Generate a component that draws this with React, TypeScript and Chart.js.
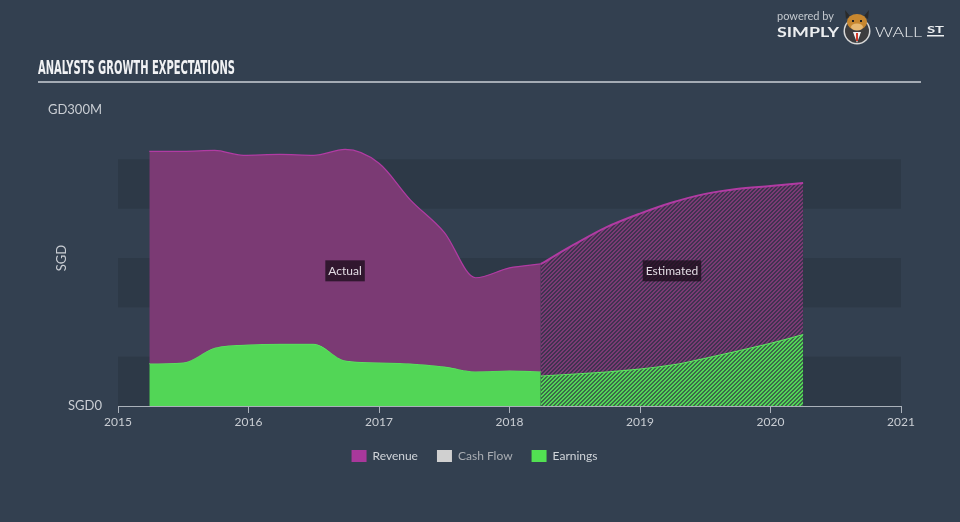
import React, { useEffect, useRef } from 'react';
import { Chart, registerables } from 'chart.js';

Chart.register(...registerables);

// ---- data ----
const actualYears = [2015.24, 2015.5, 2015.74, 2015.96, 2016.24, 2016.5, 2016.74, 2017.0, 2017.24, 2017.5, 2017.74, 2018.0, 2018.24];
const revenueActual = [258, 258, 259, 254, 255, 254, 260, 246, 209, 176, 130, 140, 144];
const earningsActual = [43, 44, 59, 62, 63, 63, 46, 44, 43, 40, 35, 36, 35];

const estimatedYears = [2018.24, 2018.5, 2018.74, 2019.0, 2019.24, 2019.5, 2019.74, 2020.0, 2020.25];
const revenueEstimated = [144, 164, 181, 195, 206, 215, 220, 223, 226];
const earningsEstimated = [31, 33, 35, 38, 42, 49, 56, 64, 73];

const yTickLabels = ['SGD0', 'GD300M'];
const legendLabels = ['Revenue', 'Cash Flow', 'Earnings'];
const bandRanges = [[0, 50], [100, 150], [200, 250]];
const regionLabels = ['Actual', 'Estimated'];
const regionLabelValue = 137;
const TITLE = 'ANALYSTS GROWTH EXPECTATIONS';

// ---- styles ----
const FONT = 'Lato, "Open Sans", sans-serif';
const BG = '#334050';
const BAND = '#2d3947';
const TEXT = '#c9cdd3';
const REV_FILL = '#7b3a74';
const REV_LINE = '#b13ba3';
const EARN_FILL = '#52d656';
const EARN_LINE = '#5ee262';
const legendColors = ['#a9389b', '#d0d0d0', '#52e052'];
const legendFontColors = ['#d0d4d9', '#a9adb3', '#d0d4d9'];

function makePattern(stripe: string, gap: string): CanvasPattern | string {
  const c = document.createElement('canvas');
  c.width = 4;
  c.height = 4;
  const g = c.getContext('2d');
  if (!g) return stripe;
  for (let i = 0; i < 4; i++) {
    for (let j = 0; j < 4; j++) {
      g.fillStyle = (i + j) % 4 < 2 ? stripe : gap;
      g.fillRect(i, j, 1, 1);
    }
  }
  const p = g.createPattern(c, 'repeat');
  return p || stripe;
}

function fillTextFit(ctx: CanvasRenderingContext2D, text: string, x: number, y: number, width: number) {
  const w = ctx.measureText(text).width;
  ctx.save();
  ctx.translate(x, y);
  ctx.scale(width / w, 1);
  ctx.fillText(text, 0, 0);
  ctx.restore();
}

const decorPlugin = {
  id: 'decor',
  beforeDraw(chart: any) {
    const { ctx, chartArea, scales } = chart;
    ctx.save();
    ctx.fillStyle = BG;
    ctx.fillRect(0, 0, chart.width, chart.height);
    ctx.fillStyle = BAND;
    for (const [a, b] of bandRanges) {
      const y1 = scales.y.getPixelForValue(b);
      const y2 = scales.y.getPixelForValue(a);
      ctx.fillRect(chartArea.left, y1, chartArea.right - chartArea.left, y2 - y1);
    }
    // title
    ctx.fillStyle = '#f1f2f4';
    ctx.textBaseline = 'alphabetic';
    ctx.textAlign = 'left';
    ctx.font = 'bold 20px "DejaVu Sans Condensed", "DejaVu Sans", sans-serif';
    fillTextFit(ctx, TITLE, 38, 74, 197);
    ctx.fillStyle = '#a4abb4';
    ctx.fillRect(38, 81, 883, 2);

    // logo
    ctx.fillStyle = '#c4c9cf';
    ctx.font = '11px ' + FONT;
    fillTextFit(ctx, 'powered by', 777, 20, 57);
    ctx.fillStyle = '#eceef0';
    ctx.font = 'bold 14px ' + FONT;
    fillTextFit(ctx, 'SIMPLY', 777, 37, 62);
    ctx.font = '300 14px ' + FONT;
    fillTextFit(ctx, 'WALL', 875, 37, 47);
    ctx.font = 'bold 10px ' + FONT;
    fillTextFit(ctx, 'ST', 927, 33, 17);
    ctx.fillRect(927, 35, 17, 1.5);
    // bull icon
    ctx.fillStyle = '#d9d9d9';
    ctx.beginPath();
    ctx.arc(857, 31, 13.5, 0, Math.PI * 2);
    ctx.fill();
    ctx.fillStyle = '#3d3d3f';
    ctx.beginPath();
    ctx.arc(857, 31, 12, 0, Math.PI * 2);
    ctx.fill();
    ctx.fillStyle = '#f2f2f2';
    ctx.beginPath();
    ctx.moveTo(853, 32);
    ctx.lineTo(861, 32);
    ctx.lineTo(857, 43);
    ctx.closePath();
    ctx.fill();
    ctx.fillStyle = '#d23b2a';
    ctx.fillRect(856, 33, 2, 8);
    ctx.fillStyle = '#2a2a2a';
    ctx.beginPath();
    ctx.moveTo(846, 19);
    ctx.lineTo(845, 10);
    ctx.lineTo(850, 16);
    ctx.closePath();
    ctx.fill();
    ctx.beginPath();
    ctx.moveTo(868, 19);
    ctx.lineTo(869, 10);
    ctx.lineTo(864, 16);
    ctx.closePath();
    ctx.fill();
    ctx.fillStyle = '#c7872f';
    ctx.beginPath();
    ctx.ellipse(857, 22, 10, 8, 0, 0, Math.PI * 2);
    ctx.fill();
    ctx.fillStyle = '#e6b872';
    ctx.beginPath();
    ctx.ellipse(857, 27, 6, 3.5, 0, 0, Math.PI * 2);
    ctx.fill();
    ctx.fillStyle = '#222';
    ctx.fillRect(852, 20, 2, 2);
    ctx.fillRect(860, 20, 2, 2);
    ctx.restore();
  },
  afterDatasetsDraw(chart: any) {
    const { ctx, scales } = chart;
    const spans = [
      [actualYears[0], actualYears[actualYears.length - 1]],
      [estimatedYears[0], estimatedYears[estimatedYears.length - 1]],
    ];
    ctx.save();
    ctx.font = '12px ' + FONT;
    ctx.textAlign = 'center';
    ctx.textBaseline = 'middle';
    regionLabels.forEach((label, i) => {
      const cx = scales.x.getPixelForValue((spans[i][0] + spans[i][1]) / 2);
      const cy = scales.y.getPixelForValue(regionLabelValue);
      const w = ctx.measureText(label).width + 6;
      ctx.fillStyle = 'rgba(28,14,28,0.78)';
      ctx.fillRect(cx - w / 2, cy - 10.5, w, 21);
      ctx.fillStyle = '#e2dbe3';
      ctx.fillText(label, cx, cy + 0.5);
    });
    ctx.restore();
  },
};

export default function App() {
  const ref = useRef<HTMLCanvasElement | null>(null);

  useEffect(() => {
    if (!ref.current) return;
    const revPattern = makePattern('#7b3a74', '#3f3350');
    const earnPattern = makePattern('#52d656', '#3c6a4a');
    const pts = (xs: number[], ys: number[]) => xs.map((x, i) => ({ x, y: ys[i] }));

    const chart = new Chart(ref.current, {
      type: 'line',
      data: {
        datasets: [
          {
            label: 'Revenue',
            data: pts(actualYears, revenueActual),
            fill: 1,
            backgroundColor: REV_FILL,
            borderColor: REV_LINE,
            borderWidth: 1.2,
            pointRadius: 0,
            cubicInterpolationMode: 'monotone',
          },
          {
            label: 'Earnings',
            data: pts(actualYears, earningsActual),
            fill: 'origin',
            backgroundColor: EARN_FILL,
            borderColor: EARN_LINE,
            borderWidth: 1.2,
            pointRadius: 0,
            cubicInterpolationMode: 'monotone',
          },
          {
            label: 'Revenue (est.)',
            data: pts(estimatedYears, revenueEstimated),
            fill: 3,
            backgroundColor: revPattern as any,
            borderColor: REV_LINE,
            borderWidth: 2,
            pointRadius: 0,
            cubicInterpolationMode: 'monotone',
          },
          {
            label: 'Earnings (est.)',
            data: pts(estimatedYears, earningsEstimated),
            fill: 'origin',
            backgroundColor: earnPattern as any,
            borderColor: EARN_LINE,
            borderWidth: 2,
            pointRadius: 0,
            cubicInterpolationMode: 'monotone',
          },
        ],
      },
      options: {
        responsive: false,
        animation: false,
        layout: { padding: { top: 110, left: 48, right: 59, bottom: 50 } },
        scales: {
          x: {
            type: 'linear',
            min: 2015,
            max: 2021,
            grid: { display: true, drawOnChartArea: false, drawTicks: true, tickLength: 7, color: '#aab1ba' },
            border: { display: true, color: '#aab1ba', width: 1 },
            ticks: {
              stepSize: 1,
              autoSkip: false,
              maxRotation: 0,
              padding: 2,
              color: TEXT,
              font: { family: FONT, size: 12 },
              callback: (v: any) => String(v),
            },
            afterFit: (s: any) => { s.height = 25; },
          },
          y: {
            type: 'linear',
            min: 0,
            max: 300,
            grid: { display: false, drawTicks: false },
            border: { display: false },
            ticks: {
              stepSize: 300,
              padding: 16,
              color: TEXT,
              font: { family: FONT, size: 13 },
              callback: (_v: any, i: number) => yTickLabels[i],
            },
            title: {
              display: true,
              text: 'SGD',
              color: TEXT,
              font: { family: FONT, size: 13 },
              padding: { top: 6, bottom: 0 },
            },
            afterFit: (s: any) => { s.width = 70; },
          },
        },
        plugins: {
          legend: {
            position: 'bottom',
            onClick: () => {},
            labels: {
              boxWidth: 15,
              boxHeight: 12,
              padding: 19,
              color: TEXT,
              font: { family: FONT, size: 12 },
              generateLabels: () =>
                legendLabels.map((text, i) => ({
                  text,
                  fillStyle: legendColors[i],
                  strokeStyle: legendColors[i],
                  lineWidth: 0,
                  fontColor: legendFontColors[i],
                  hidden: false,
                  datasetIndex: i,
                })),
            },
          },
          tooltip: { enabled: false },
        },
      },
      plugins: [decorPlugin],
    } as any);
    return () => chart.destroy();
  }, []);

  return (
    <div style={{ position: 'fixed', left: 0, top: 0, width: 960, height: 522, background: BG }}>
      <canvas ref={ref} width={960} height={522} style={{ display: 'block' }} />
    </div>
  );
}
